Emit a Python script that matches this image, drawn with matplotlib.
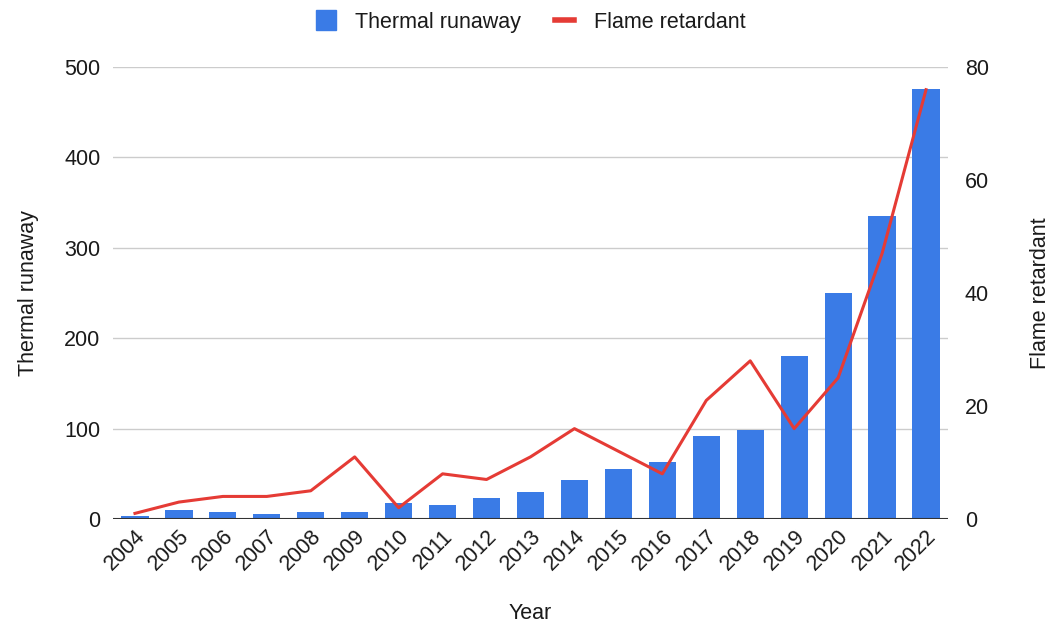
import matplotlib
matplotlib.use("Agg")
import matplotlib.pyplot as plt
from matplotlib.lines import Line2D

plt.rcParams["font.family"] = ["Liberation Sans", "DejaVu Sans"]

years = [str(y) for y in range(2004, 2023)]
thermal_runaway = [3, 10, 8, 6, 8, 8, 18, 16, 23, 30, 43, 55, 63, 92, 98, 180, 250, 335, 476]
flame_retardant = [1, 3, 4, 4, 5, 11, 2, 8, 7, 11, 16, 12, 8, 21, 28, 16, 25, 47, 76]

bar_color = "#3a7be6"
line_color = "#e53b35"
text_color = "#1a1a1a"
fs = 15.5

fig = plt.figure(figsize=(10.51, 6.27), dpi=100)
ax = fig.add_axes([0.1075, 0.1722, 0.7945, 0.7208])
ax2 = ax.twinx()

x = range(len(years))
ax.bar(x, thermal_runaway, width=0.62, color=bar_color, zorder=2)
ax2.plot(x, flame_retardant, color=line_color, lw=2.2, zorder=3)

ax.set_xlim(-0.5, len(years) - 0.5)
ax.set_ylim(0, 500)
ax2.set_ylim(0, 80)
ax.set_yticks(range(0, 501, 100))
ax2.set_yticks(range(0, 81, 20))

ax.set_xticks(list(x))
ax.set_xticklabels(years, rotation=45, ha="right", rotation_mode="anchor")

ax.grid(axis="y", color="#cccccc", lw=1, zorder=0)
ax.set_axisbelow(True)
for a in (ax, ax2):
    for side in ("top", "left", "right", "bottom"):
        a.spines[side].set_visible(False)
    a.tick_params(length=0, labelsize=fs, colors=text_color)
ax.axhline(0, color="#333333", lw=1.5, zorder=4)
ax.tick_params(axis="y", pad=9)
ax.tick_params(axis="x", pad=5)
ax2.tick_params(axis="y", pad=12)

ax.set_ylabel("Thermal runaway", fontsize=fs, color=text_color, labelpad=18)
ax2.set_ylabel("Flame retardant", fontsize=fs, color=text_color, labelpad=30)
ax.set_xlabel("Year", fontsize=fs, color=text_color, labelpad=20)

# ax2 sits on top, keep the bars behind the line
ax2.set_zorder(ax.get_zorder() + 1)
ax2.patch.set_visible(False)

handles = [
    Line2D([], [], marker="s", ls="none", color=bar_color, markersize=15),
    Line2D([], [], color=line_color, lw=4),
]
fig.legend(handles, ["Thermal runaway", "Flame retardant"], loc="upper center",
           bbox_to_anchor=(0.505, 1.012), ncol=2, frameon=False, fontsize=fs,
           handlelength=0.9, columnspacing=1.6, handletextpad=0.9,
           labelcolor=text_color)

fig.savefig("out.png", dpi=100)
